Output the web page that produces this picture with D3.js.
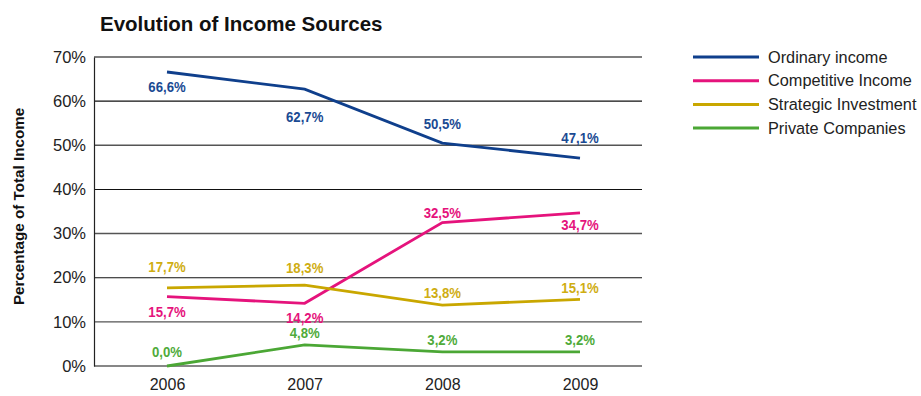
<!DOCTYPE html>
<html>
<head>
<meta charset="utf-8">
<script src="https://cdn.jsdelivr.net/npm/d3@7"></script>
<style>
  html, body { margin: 0; padding: 0; background: #fff; }
  svg { display: block; }
  text { font-family: "Liberation Sans", Arial, Helvetica, sans-serif; }
</style>
</head>
<body>
<svg id="chart" width="921" height="396"></svg>
<script>
// Years on the horizontal axis
const years = ["2006", "2007", "2008", "2009"];

// Share of total income per source (%)
const ordinaryIncome = [66.6, 62.7, 50.5, 47.1];
const competitiveIncome = [15.7, 14.2, 32.5, 34.7];
const strategicInvestment = [17.7, 18.3, 13.8, 15.1];
const privateCompanies = [0.0, 4.8, 3.2, 3.2];

const seriesNames = ["Ordinary income", "Competitive Income", "Strategic Investment", "Private Companies"];
const yTicks = [0, 10, 20, 30, 40, 50, 60, 70];

// Presentation
const colors = ["#0f3f8c", "#e5137c", "#c9a700", "#4ba735"];
const labelColors = ["#1a4a93", "#e5137c", "#cfad12", "#4fab3a"];
// Vertical shift of each value label relative to its point (px)
const labelShift = [
  [15, 27, -20, -21],
  [15, 14, -10, 12],
  [-21, -18, -13, -12],
  [-14, -12, -12, -12]
];

const seriesValues = [ordinaryIncome, competitiveIncome, strategicInvestment, privateCompanies];
const series = seriesNames.map((name, i) => ({
  name, color: colors[i], labelColor: labelColors[i], shift: labelShift[i],
  values: years.map((y, j) => ({ year: y, value: seriesValues[i][j] }))
}));

const svg = d3.select("#chart");
const plot = { left: 94, right: 642, top: 57, bottom: 366 };

const x = d3.scalePoint().domain(years).range([167, 580]);
const y = d3.scaleLinear().domain([0, 70]).range([plot.bottom, plot.top]);

// Title
svg.append("text")
  .attr("x", 100).attr("y", 31)
  .attr("font-size", 20.5).attr("font-weight", "bold")
  .attr("fill", "#111")
  .text("Evolution of Income Sources");

// Horizontal grid lines
svg.append("g").selectAll("line").data(yTicks).join("line")
  .attr("x1", plot.left).attr("x2", plot.right)
  .attr("y1", d => y(d)).attr("y2", d => y(d))
  .attr("stroke", (d, i) => i % 2 ? "#555" : "#111")
  .attr("stroke-width", (d, i) => i % 2 ? 1.4 : 1.1);

// Left axis
const yAxis = d3.axisLeft(y).tickValues(yTicks).tickSize(0).tickPadding(8).tickFormat(d => d + "%");
const gy = svg.append("g").attr("transform", `translate(${plot.left},0)`).call(yAxis);
gy.select(".domain").attr("stroke", "#222").attr("stroke-width", 1.2);
gy.selectAll("text").attr("font-size", 16.5).attr("fill", "#222")
  .attr("font-family", "'Liberation Sans', Arial, sans-serif");

// Bottom axis labels
const xAxis = d3.axisBottom(x).tickSize(0).tickPadding(13);
const gx = svg.append("g").attr("transform", `translate(0,${plot.bottom})`).call(xAxis);
gx.select(".domain").remove();
gx.selectAll("text").attr("font-size", 16).attr("fill", "#222")
  .attr("font-family", "'Liberation Sans', Arial, sans-serif");

// Axis title
svg.append("text")
  .attr("transform", "translate(24,206.5) rotate(-90)")
  .attr("text-anchor", "middle")
  .attr("font-size", 15.2).attr("font-weight", "bold").attr("fill", "#111")
  .text("Percentage of Total Income");

// Lines
const line = d3.line().x(d => x(d.year)).y(d => y(d.value));
svg.append("g").selectAll("path").data(series).join("path")
  .attr("d", d => line(d.values))
  .attr("fill", "none")
  .attr("stroke", d => d.color)
  .attr("stroke-width", 2.8);

// Value labels (bold, horizontally condensed)
const fmt = v => v.toFixed(1).replace(".", ",") + "%";
series.forEach(s => {
  svg.append("g").selectAll("text").data(s.values).join("text")
    .attr("transform", (d, j) => `translate(${x(d.year)},${y(d.value) + s.shift[j]}) scale(0.85,1)`)
    .attr("dy", "0.35em")
    .attr("text-anchor", "middle")
    .attr("font-size", 15.5).attr("font-weight", "bold")
    .attr("fill", s.labelColor)
    .text(d => fmt(d.value));
});

// Legend
const legend = svg.append("g").attr("transform", "translate(693,57)");
const item = legend.selectAll("g").data(series).join("g")
  .attr("transform", (d, i) => `translate(0,${i * 23.7})`);
item.append("line")
  .attr("x1", 0).attr("x2", 66)
  .attr("stroke", d => d.color).attr("stroke-width", 3);
item.append("text")
  .attr("x", 75).attr("dy", "0.35em")
  .attr("font-size", 16.3).attr("fill", "#222")
  .text(d => d.name);
</script>
</body>
</html>
